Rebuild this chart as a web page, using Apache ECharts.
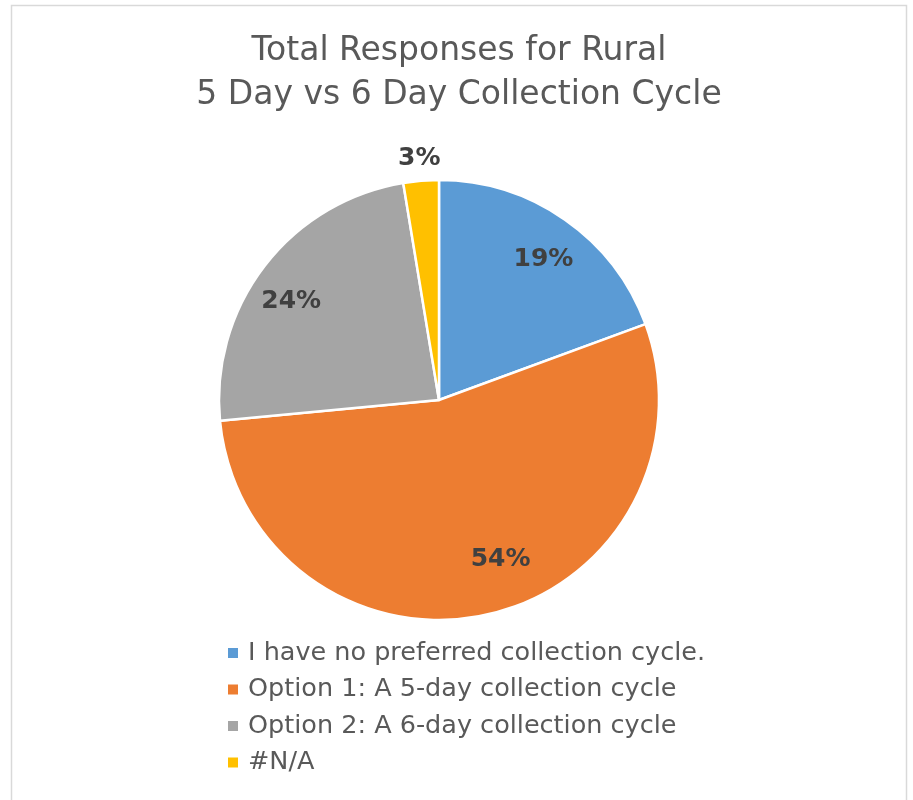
<!DOCTYPE html>
<html>
<head>
<meta charset="utf-8">
<script src="https://cdn.jsdelivr.net/npm/echarts@6/dist/echarts.min.js"></script>
<style>html,body{margin:0;padding:0;background:#fff;}#c{width:913px;height:800px;}</style>
</head>
<body>
<div id="c"></div>
<script>
var titleLines = ['Total Responses for Rural', '5 Day vs 6 Day Collection Cycle'];
var categories = ['I have no preferred collection cycle.', 'Option 1: A 5-day collection cycle', 'Option 2: A 6-day collection cycle', '#N/A'];
var values = [19.4, 54.1, 23.9, 2.6];
var colors = ['#5b9bd5', '#ed7d31', '#a5a5a5', '#ffc000'];

var chart = echarts.init(document.getElementById('c'), null, {renderer: 'canvas'});
var FONT = 'DejaVu Sans, sans-serif';

var mainData = categories.map(function (n, i) {
  return {name: n, value: values[i], itemStyle: {color: colors[i]}};
});
var innerLabelData = categories.map(function (n, i) {
  return {name: n, value: values[i], label: {show: i !== 3}};
});
var outerLabelData = categories.map(function (n, i) {
  return {name: n, value: values[i], label: {show: i === 3}};
});
var labelStyle = {
  position: 'inside', formatter: '{d}%',
  fontFamily: FONT, fontSize: 25, fontWeight: 'bold', color: '#404040'
};
// small best-fit nudges like the spreadsheet's label placement
var nudge = {0: [2, 6], 1: [22, -15], 2: [-6, 11]};

chart.setOption({
  animation: false,
  backgroundColor: '#ffffff',
  graphic: [{
    type: 'rect', shape: {x: 11.5, y: 5.5, width: 895, height: 820},
    style: {fill: 'none', stroke: '#d9d9d9', lineWidth: 1.5}, silent: true
  }],
  title: {
    text: titleLines.join('\n'),
    left: 454, top: 24, textAlign: 'center',
    textStyle: {fontFamily: FONT, fontSize: 33, fontWeight: 'normal', color: '#595959', lineHeight: 44}
  },
  legend: {
    orient: 'vertical', left: 228, top: 640, padding: 0,
    itemWidth: 20, itemHeight: 10, itemGap: 10.5,
    icon: 'path://M0,0h10v10h-10z',
    data: categories,
    textStyle: {fontFamily: FONT, fontSize: 25.5, color: '#595959'},
    itemStyle: {borderWidth: 0}
  },
  series: [{
    type: 'pie', center: [439, 400], radius: [0, 220],
    startAngle: 90, clockwise: true, percentPrecision: 0,
    data: mainData,
    itemStyle: {borderColor: '#ffffff', borderWidth: 2.5},
    label: {show: false},
    labelLine: {show: false},
    emphasis: {disabled: true}
  }, {
    type: 'pie', center: [439, 400], radius: [132, 220],
    startAngle: 90, clockwise: true, percentPrecision: 0, silent: true,
    data: innerLabelData,
    itemStyle: {color: 'rgba(0,0,0,0)', borderWidth: 0},
    label: labelStyle,
    labelLine: {show: false},
    labelLayout: function (p) {
      var d = nudge[p.dataIndex] || [0, 0];
      return {dx: d[0], dy: d[1]};
    },
    emphasis: {disabled: true}
  }, {
    type: 'pie', center: [439, 400], radius: [220, 258],
    startAngle: 90, clockwise: true, percentPrecision: 0, silent: true,
    data: outerLabelData,
    itemStyle: {color: 'rgba(0,0,0,0)', borderWidth: 0},
    label: labelStyle,
    labelLine: {show: false},
    emphasis: {disabled: true}
  }]
});
</script>
</body>
</html>
